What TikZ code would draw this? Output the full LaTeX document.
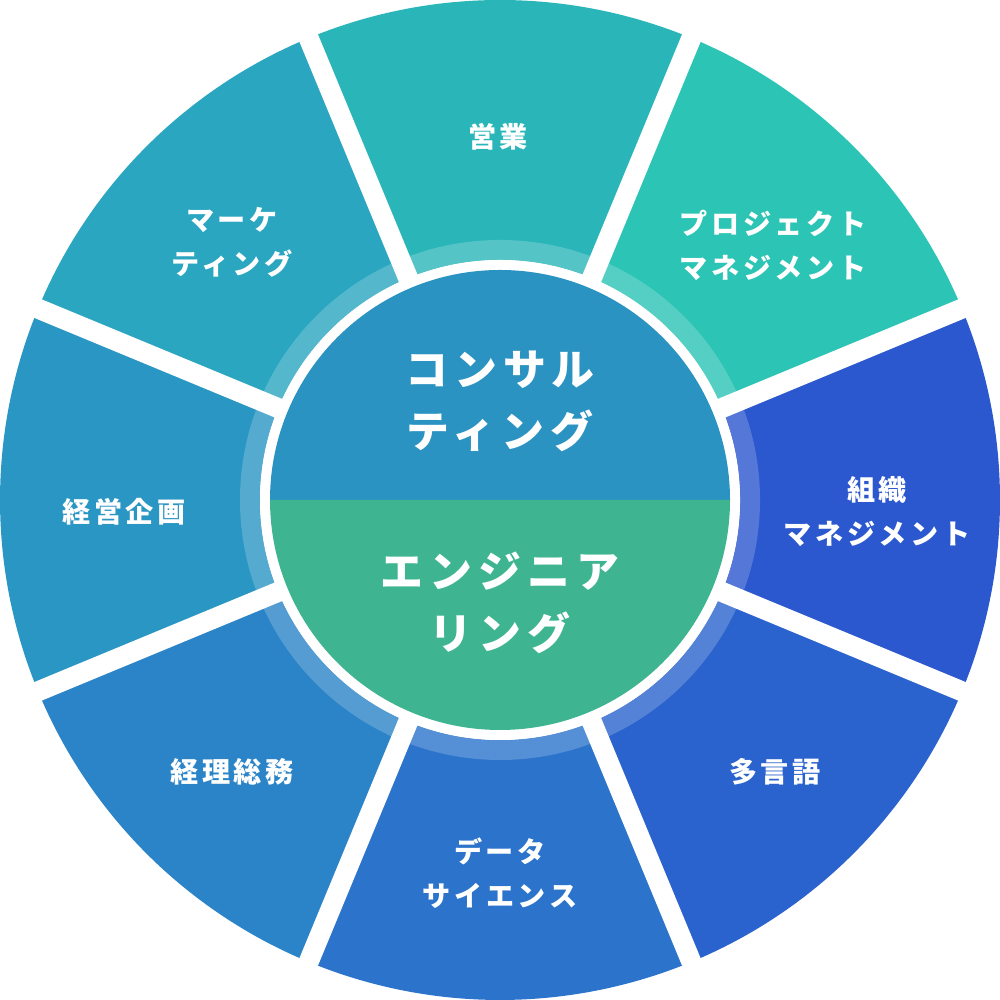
\documentclass[tikz,border=0pt]{standalone}
\usepackage{fontspec}
\newfontfamily\jp{Noto Sans CJK JP}
\usetikzlibrary{calc}
\definecolor{cEigyo}{HTML}{2AB6B9}
\definecolor{cPM}{HTML}{2BC4B5}
\definecolor{cSoshiki}{HTML}{2B57CF}
\definecolor{cTagengo}{HTML}{2A63CD}
\definecolor{cData}{HTML}{2B73CB}
\definecolor{cKeiri}{HTML}{2B84C8}
\definecolor{cKeiei}{HTML}{2A96C4}
\definecolor{cMarket}{HTML}{2AA6C0}
\definecolor{cTop}{HTML}{2B93C1}
\definecolor{cBot}{HTML}{3EB590}
\tikzset{
  outerlabel/.style={text=white, align=center, inner sep=0pt,
    font={\jp\bfseries\fontsize{8.0}{12.5}\selectfont\addfontfeatures{LetterSpace=13}}},
  centerlabel/.style={text=white, align=center, inner sep=0pt,
    font={\jp\bfseries\fontsize{12.2}{17.6}\selectfont\addfontfeatures{LetterSpace=14}}},
  gapline/.style={white, line width=0.2cm},
}
\newcommand{\segfill}[3]{%
  \fill[#1] ([shift={(#2:5)}]C) arc[start angle=#2, end angle=#3, radius=5]
    -- ([shift={(#3:2.4)}]C) arc[start angle=#3, end angle=#2, radius=2.4] -- cycle;}
\begin{document}
\begin{tikzpicture}
\useasboundingbox (0,0) rectangle (10,10);
\coordinate (C) at (5,5);
% segments
\segfill{cEigyo}{67.5}{112.5}
\segfill{cPM}{22.5}{67.5}
\segfill{cSoshiki}{-22.5}{22.5}
\segfill{cTagengo}{-67.5}{-22.5}
\segfill{cData}{-112.5}{-67.5}
\segfill{cKeiri}{-157.5}{-112.5}
\segfill{cKeiei}{157.5}{202.5}
\segfill{cMarket}{112.5}{157.5}
% light inner ring
\fill[white, opacity=0.2, even odd rule] (C) circle (2.6) (C) circle (2.4);
% gaps
\foreach \a in {22.5,67.5,...,337.5}
  \draw[gapline] (C) -- ([shift={(\a:5.05)}]C);
% center
\fill[white] (C) circle (2.4);
\fill[cTop] ([shift={(0:2.3)}]C) arc[start angle=0, end angle=180, radius=2.3] -- cycle;
\fill[cBot] ([shift={(180:2.3)}]C) arc[start angle=180, end angle=360, radius=2.3] -- cycle;
% labels
\node[centerlabel] (consult) at (5.0,5.99) {コンサル\\ティング};
\node[centerlabel] (engineer) at (5.0,3.97) {エンジニア\\リング};
\node[outerlabel] (eigyo) at (4.98,8.63) {営業};
\node[outerlabel] (pm) at (7.73,7.55) {プロジェクト\\マネジメント};
\node[outerlabel] (soshiki) at (8.77,4.88) {組織\\マネジメント};
\node[outerlabel] (tagengo) at (7.75,2.28) {多言語};
\node[outerlabel] (data) at (5.00,1.27) {データ\\サイエンス};
\node[outerlabel] (keiri) at (2.32,2.28) {経理総務};
\node[outerlabel] (keiei) at (1.24,4.88) {経営企画};
\node[outerlabel] (market) at (2.32,7.58) {マーケ\\ティング};
\end{tikzpicture}
\end{document}
